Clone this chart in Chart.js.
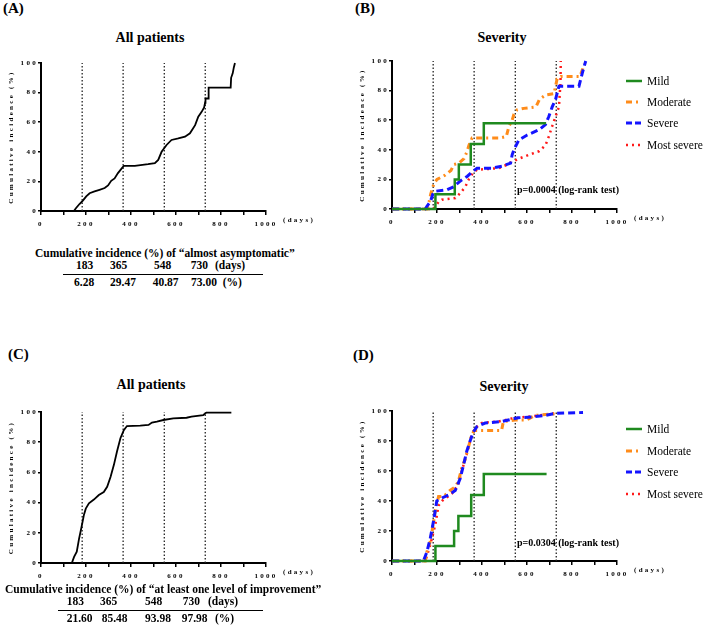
<!DOCTYPE html>
<html>
<head>
<meta charset="utf-8">
<script src="https://cdn.jsdelivr.net/npm/chart.js@4.4.1/dist/chart.umd.min.js"></script>
<style>
  body { margin: 0; background: #fff; }
  #page { position: relative; width: 709px; height: 640px; overflow: hidden; font-family: 'Liberation Serif', 'Times New Roman', serif; color: #000; }
  canvas { position: absolute; }
  .t { position: absolute; white-space: nowrap; line-height: 1; font-weight: bold; }
  .tab { font-size: 11.5px; }
  .ttl { font-size: 14px; width: 200px; text-align: center; }
  .pl { font-size: 15px; }
  .rule { position: absolute; height: 1px; background: #000; }
  .leg { position: absolute; left: 626px; height: 12px; display: flex; align-items: center; font-size: 11.5px; line-height: 12px; white-space: nowrap; }
  .leg svg { margin-right: 4px; }
</style>
</head>
<body>
<div id="page">
  <div class="t pl" style="left:3px;top:0.7px">(A)</div>
  <div class="t pl" style="left:355px;top:0.7px">(B)</div>
  <div class="t pl" style="left:8px;top:347.4px">(C)</div>
  <div class="t pl" style="left:353px;top:348px">(D)</div>

  <div class="t ttl" style="left:50px;top:30.6px">All patients</div>
  <div class="t ttl" style="left:402px;top:31px">Severity</div>
  <div class="t ttl" style="left:51px;top:378.3px">All patients</div>
  <div class="t ttl" style="left:404px;top:380.3px">Severity</div>

  <canvas id="chartA" width="340" height="195" style="left:0;top:45px"></canvas>
  <canvas id="chartB" width="358" height="195" style="left:351px;top:45px"></canvas>
  <canvas id="chartC" width="340" height="195" style="left:0;top:395px"></canvas>
  <canvas id="chartD" width="358" height="195" style="left:351px;top:395px"></canvas>

  <div id="tables"></div>
  <div id="legends"></div>
</div>

<script>
// follow-up days where the dotted reference lines sit
const markerDays = [183, 365, 548, 730];

// (A) all patients, "almost asymptomatic"
const aDays = [0, 146, 156, 171, 186, 201, 216, 238, 260, 283, 298, 312, 327, 342, 357, 368, 417, 476, 506, 521, 536, 558, 580, 610, 640, 662, 685, 699, 714, 725, 729, 731, 744, 745, 843, 845, 852, 857, 862];
const aInc  = [0, 0, 2, 4.7, 7, 9.9, 12, 13.2, 14.3, 15.5, 17.3, 20.4, 22, 25.6, 28.5, 30.5, 30.5, 31.6, 32.3, 34.5, 40, 44.6, 48, 49, 50.2, 52.5, 58, 63.7, 67, 70, 73, 76, 76, 83.4, 83.4, 90, 93, 97, 100];

// (B) by severity, "almost asymptomatic"
const mildDaysB = [0, 193, 279, 297, 350, 408, 685];
const mildIncB  = [0, 10, 20, 30, 44, 58, 58];
const modDaysB = [0, 155, 165, 172, 180, 186, 200, 237, 262, 275, 297, 320, 334, 342, 356, 480, 508, 520, 534, 542, 556, 586, 640, 655, 682, 720, 727, 734, 750, 835, 846, 855];
const modIncB  = [0, 0, 5, 10, 14, 17, 20, 23, 26, 30, 31, 34, 39, 43, 48, 48, 49, 56, 60, 64, 67, 68, 69, 74, 77, 78, 83, 88, 89.5, 89.5, 94, 98];
const sevDaysB = [0, 148, 156, 171, 181, 193, 245, 274, 304, 334, 356, 378, 445, 490, 527, 534, 542, 564, 601, 653, 682, 697, 712, 727, 742, 831, 846, 858, 861];
const sevIncB  = [0, 0, 2, 5, 10, 12, 13, 15, 19, 22, 25, 27.6, 27.6, 29, 31, 36.6, 40, 46.7, 50, 53.5, 57, 62.5, 69, 74, 83, 83, 92, 98.4, 100];
const mostDaysB = [0, 185, 208, 222, 282, 304, 326, 341, 363, 378, 475, 512, 534, 564, 608, 653, 682, 697, 712, 727, 742, 749, 750];
const mostIncB  = [0, 0, 5, 6.3, 7.4, 10.8, 15, 20, 25, 26.5, 27.6, 30, 32, 34, 36.6, 39, 43, 49, 56, 62.5, 69, 86, 100];

// (C) all patients, "at least one level of improvement"
const cDays = [0, 137, 147, 159, 169, 179, 191, 199, 213, 235, 257, 279, 294, 309, 324, 338, 353, 368, 382, 441, 478, 493, 515, 544, 588, 647, 669, 721, 735, 846];
const cInc  = [0, 0, 4, 7.5, 16, 23, 32, 36, 39.5, 42, 45, 47, 50.5, 57, 65, 74, 82.6, 88, 90.7, 91, 91.4, 93, 93.6, 94.7, 95.8, 96.2, 97, 98, 99.6, 99.6];

// (D) by severity, "at least one level of improvement"
const mildDaysD = [0, 193, 276, 295, 352, 408, 687];
const mildIncD  = [0, 10, 20, 30, 44, 58, 58];
const modDaysD = [0, 148, 155, 170, 185, 192, 207, 229, 258, 281, 295, 310, 325, 340, 354, 366, 487, 495, 547, 598, 635, 709, 740];
const modIncD  = [0, 0, 6, 13, 26, 33, 43, 43, 47, 49.5, 53, 62, 68, 76, 84, 87, 87, 93, 94, 94, 97, 98, 98];
const sevDaysD = [0, 140, 155, 170, 185, 199, 222, 251, 281, 303, 318, 332, 347, 362, 377, 414, 487, 517, 561, 620, 680, 724, 849];
const sevIncD  = [0, 0, 6, 15, 27, 40, 42, 44, 47, 55, 64, 73, 80, 86, 89.6, 92, 93, 94, 95.5, 96, 97, 98.4, 99];
const mostDaysD = [0, 148, 170, 192, 207, 222, 266, 295, 310, 332, 354, 369, 399, 473, 532, 591, 650, 724];
const mostIncD  = [0, 0, 10.7, 24, 37, 40, 45, 51, 60, 71, 84, 88.4, 92, 93, 95, 96, 97, 98.4];

// tables under the "all patients" panels
const tableDays = ['183', '365', '548', '730'];
const tableA = ['6.28', '29.47', '40.87', '73.00'];
const tableC = ['21.60', '85.48', '93.98', '97.98'];

const groupNames = ['Mild', 'Moderate', 'Severe', 'Most severe'];

const FONT = 'Liberation Serif';
const SPACING = '2.3px';

function toPoints(days, inc) {
    return days.map((d, i) => ({ x: d, y: inc[i] }));
}

// letter-spaced axis text + the "(days)" unit at the end of the x axis
const axisText = {
    id: 'axisText',
    beforeLayout(chart) { chart.ctx.letterSpacing = SPACING; },
    beforeDraw(chart) { chart.ctx.letterSpacing = SPACING; },
    afterDraw(chart) {
        const ctx = chart.ctx;
        const xs = chart.scales.x;
        const item = xs.getLabelItems()[0];
        ctx.save();
        ctx.letterSpacing = SPACING;
        ctx.font = 'bold 7px "' + FONT + '"';
        ctx.fillStyle = '#000';
        ctx.textAlign = 'left';
        ctx.textBaseline = item.options.textBaseline;
        ctx.fillText('(days)', xs.right + 17, item.options.translation[1]);
        ctx.restore();
    }
};

// log-rank note placed in data units
const pNote = {
    id: 'pNote',
    afterDatasetsDraw(chart, args, opts) {
        if (!opts || !opts.text) return;
        const ctx = chart.ctx;
        ctx.save();
        ctx.letterSpacing = '0px';
        ctx.font = 'bold 10px "' + FONT + '"';
        ctx.fillStyle = '#000';
        ctx.textAlign = 'left';
        ctx.textBaseline = 'alphabetic';
        ctx.fillText(opts.text, chart.scales.x.getPixelForValue(opts.x), chart.scales.y.getPixelForValue(opts.y));
        ctx.restore();
    }
};

function markerSets() {
    return markerDays.map(d => ({
        data: [{ x: d, y: 0 }, { x: d, y: 100 }],
        borderColor: '#222',
        borderWidth: 1.3,
        borderDash: [1.5, 2],
        pointRadius: 0,
        order: 10
    }));
}

function makeChart(id, curves, pad, note) {
    const tickFont = { family: FONT, size: 7, weight: 'bold' };
    return new Chart(document.getElementById(id), {
        type: 'line',
        data: { datasets: curves.concat(markerSets()) },
        plugins: [axisText, pNote],
        options: {
            responsive: false,
            animation: false,
            events: [],
            layout: { autoPadding: false, padding: pad },
            elements: { line: { tension: 0, fill: false, borderCapStyle: 'butt' }, point: { radius: 0 } },
            plugins: {
                legend: { display: false },
                tooltip: { enabled: false },
                pNote: note || {}
            },
            scales: {
                x: {
                    type: 'linear', min: 0, max: 1000,
                    afterFit: s => { s.height = 25; },
                    border: { color: '#000', width: 2 },
                    grid: { drawOnChartArea: false, color: '#000', lineWidth: 1.5, tickLength: 4 },
                    ticks: {
                        stepSize: 100, autoSkip: false, maxRotation: 0, padding: 5,
                        color: '#000', font: tickFont,
                        callback: v => (v % 200 === 0 ? String(v) : '')
                    }
                },
                y: {
                    type: 'linear', min: 0, max: 100,
                    afterFit: s => { s.width = 41; },
                    border: { color: '#000', width: 2 },
                    grid: { drawOnChartArea: false, color: '#000', lineWidth: 1.5, tickLength: 3 },
                    ticks: { stepSize: 20, padding: 0, color: '#000', font: tickFont },
                    title: {
                        display: true, text: 'Cumulative incidence (%)', color: '#000',
                        font: { family: FONT, size: 7, weight: 'bold' },
                        padding: { top: 7, bottom: 0 }
                    }
                }
            }
        }
    });
}

function blackCurve(days, inc) {
    return { data: toPoints(days, inc), borderColor: '#000', borderWidth: 1.8, clip: false, order: 0 };
}

function severityCurves(md, mi, od, oi, sd, si, xd, xi) {
    return [
        { label: 'Mild', data: toPoints(md, mi), borderColor: '#1f8a1f', borderWidth: 2.5, stepped: 'before', clip: false, order: 0 },
        { label: 'Moderate', data: toPoints(od, oi), borderColor: '#ff8c1a', borderWidth: 3, borderDash: [6, 4, 2, 4], clip: false, order: 2 },
        { label: 'Severe', data: toPoints(sd, si), borderColor: '#1414ff', borderWidth: 3, borderDash: [7, 4], clip: false, order: 1 },
        { label: 'Most severe', data: toPoints(xd, xi), borderColor: '#ff1a1a', borderWidth: 2.5, borderDash: [2, 4], clip: false, order: 3 }
    ];
}

makeChart('chartA', [blackCurve(aDays, aInc)], { left: 0, top: 18, right: 74, bottom: 4 });
makeChart('chartB', severityCurves(mildDaysB, mildIncB, modDaysB, modIncB, sevDaysB, sevIncB, mostDaysB, mostIncB),
    { left: 0, top: 16, right: 92, bottom: 6 }, { text: 'p=0.0004 (log-rank test)', x: 555, y: 10.8 });
makeChart('chartC', [blackCurve(cDays, cInc)], { left: 0, top: 17, right: 74, bottom: 2 });
makeChart('chartD', severityCurves(mildDaysD, mildIncD, modDaysD, modIncD, sevDaysD, sevIncD, mostDaysD, mostIncD),
    { left: 0, top: 16, right: 92, bottom: 4 }, { text: 'p=0.0304 (log-rank test)', x: 555, y: 10 });

// tables
const page = document.getElementById('tables');
function addText(text, left, top, cls) {
    const el = document.createElement('div');
    el.className = 't ' + cls;
    el.style.left = left + 'px';
    el.style.top = top + 'px';
    el.textContent = text;
    page.appendChild(el);
}
function addRule(left, top, width) {
    const el = document.createElement('div');
    el.className = 'rule';
    el.style.left = left + 'px';
    el.style.top = top + 'px';
    el.style.width = width + 'px';
    page.appendChild(el);
}
function addTable(title, titleLeft, top, dayLefts, valLefts, values, unitLefts, rule) {
    addText(title, titleLeft, top, 'tab');
    tableDays.forEach((d, i) => addText(d, dayLefts[i], top + 12.7, 'tab'));
    addText('(days)', unitLefts[0], top + 12.7, 'tab');
    values.forEach((v, i) => addText(v, valLefts[i], top + 29.3, 'tab'));
    addText('(%)', unitLefts[1], top + 29.3, 'tab');
    addRule(rule[0], top + 25.8, rule[1]);
}
addTable('Cumulative incidence (%) of \u201calmost asymptomatic\u201d', 35, 247.7,
    [76, 110, 154, 190.7], [74, 110, 152.7, 191], tableA, [215, 222.7], [63, 200]);
addTable('Cumulative incidence (%) of \u201cat least one level of improvement\u201d', 5, 583.7,
    [66.7, 100, 145, 182.7], [66.7, 101.7, 145, 181.7], tableC, [208, 215], [58, 205]);

// legends for the severity panels
const legendBox = document.getElementById('legends');
const legendSamples = [
    '<line x1="0" y1="3" x2="16" y2="3" stroke="#1f8a1f" stroke-width="2.5"/>',
    '<line x1="0" y1="3" x2="16" y2="3" stroke="#ff8c1a" stroke-width="3" stroke-dasharray="6 4 2 4"/>',
    '<line x1="0" y1="3" x2="16" y2="3" stroke="#1414ff" stroke-width="3" stroke-dasharray="6 3"/>',
    '<line x1="0" y1="3" x2="16" y2="3" stroke="#ff1a1a" stroke-width="2.5" stroke-dasharray="2 4"/>'
];
function addLegend(centers) {
    groupNames.forEach((name, i) => {
        const row = document.createElement('div');
        row.className = 'leg';
        row.style.top = (centers[i] - 6) + 'px';
        row.innerHTML = '<svg width="17" height="6">' + legendSamples[i] + '</svg><span>' + name + '</span>';
        legendBox.appendChild(row);
    });
}
addLegend([81, 102, 123, 144.5]);
addLegend([429, 451, 472, 493.7]);
</script>
</body>
</html>
